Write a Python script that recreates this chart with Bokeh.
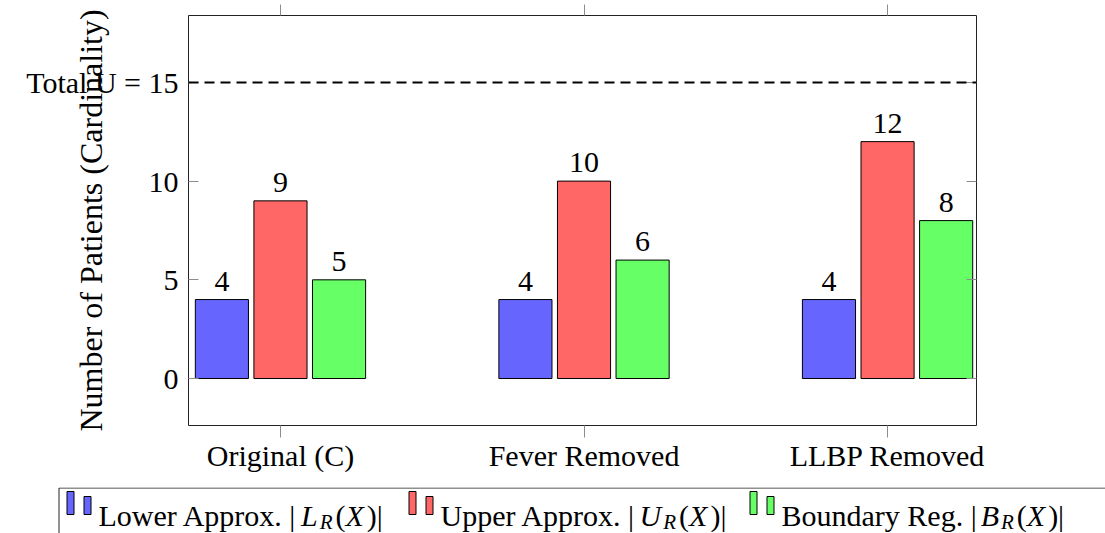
import numpy as np
from bokeh.plotting import figure
from bokeh.models import (ColumnDataSource, Range1d, FixedTicker, LinearAxis,
                          Span, LabelSet)
from bokeh.layouts import column
from bokeh.embed import file_html
from bokeh.resources import INLINE
from bokeh.transform import dodge
from bokeh.core.properties import value

# ---------------- data ----------------
categories = ["Original (C)", "Fever Removed", "LLBP Removed"]
lower = [4, 4, 4]
upper = [9, 10, 12]
boundary = [5, 6, 8]
total_u = 15
total_text = "Total U = 15"
series_names = ["Lower Approx.", "Upper Approx.", "Boundary Reg."]
series_symbols = ["L", "U", "B"]
colors = ["#6666ff", "#ff6666", "#66ff66"]
y_ticks = [0, 5, 10, 15]
y_label = "Number of Patients (Cardinality)"

# ---------------- style ----------------
FONT = "Liberation Serif"
FS = 30
TICK_COLOR = "#8c8c8c"
BAR_W = 0.175
OFFS = [-0.193, 0.0, 0.193]
W = 1105

# approx advance widths (Times metrics, per 1000 em)
REG = {' ': 250, '|': 200, '(': 333, ')': 333, '.': 250, '=': 564, 'A': 722, 'B': 667,
       'L': 611, 'U': 722, 'R': 667, 'T': 611, 'a': 444, 'd': 500, 'e': 444, 'g': 500,
       'n': 500, 'o': 500, 'p': 500, 'r': 333, 'u': 500, 'w': 722, 'x': 500, 'y': 500,
       't': 278, 'l': 278, 'i': 278}
ITA = {'L': 556, 'U': 722, 'B': 611, 'R': 611, 'X': 611}


def tw(s, size, italic=False):
    tab = ITA if italic else REG
    return sum(tab.get(ch, REG.get(ch, 500)) for ch in s) * size / 1000.0


x = np.arange(len(categories))
series = [lower, upper, boundary]
data = dict(x=x)
for i, s in enumerate(series):
    data[f"v{i}"] = s
    data[f"t{i}"] = [str(v) for v in s]
src = ColumnDataSource(data)

p = figure(frame_width=788, frame_height=410,
           x_range=Range1d(-0.303, 2.293), y_range=Range1d(-2.38, 18.39),
           output_backend="svg", toolbar_location=None,
           min_border_left=188, min_border_right=W - 188 - 788, min_border_top=15,
           min_border_bottom=62)
p.frame_align = False
p.xgrid.visible = False
p.ygrid.visible = False
p.outline_line_color = "#222222"
p.outline_line_width = 1
p.background_fill_color = "white"
p.border_fill_color = "white"

# bottom x axis
xa = p.xaxis[0]
xa.ticker = FixedTicker(ticks=list(x))
xa.major_label_overrides = {int(i): c for i, c in zip(x, categories)}
xa.major_tick_out = 12
xa.major_tick_in = 0
xa.minor_tick_line_color = None
xa.axis_line_color = None
xa.major_tick_line_color = TICK_COLOR
xa.major_label_text_font = FONT
xa.major_label_text_font_size = f"{FS}px"
xa.major_label_text_color = "black"
xa.major_label_standoff = 1

# left y axis; the 15 tick carries the "Total U = 15" note as in the reference
ya = p.yaxis[0]
ya.ticker = FixedTicker(ticks=y_ticks)
ya.major_label_overrides = {total_u: total_text}
ya.major_tick_in = 10
ya.major_tick_out = 0
ya.minor_tick_line_color = None
ya.axis_line_color = None
ya.major_tick_line_color = TICK_COLOR
ya.major_label_text_font = FONT
ya.major_label_text_font_size = f"{FS}px"
ya.major_label_text_color = "black"
ya.major_label_standoff = 10
ya.axis_label = y_label
ya.axis_label_text_font = FONT
ya.axis_label_text_font_size = "32px"
ya.axis_label_text_font_style = "normal"
ya.axis_label_text_color = "black"
ya.axis_label_standoff = int(round(78 - 10 - tw(total_text, FS)))

# top axis (ticks only)
ta = LinearAxis(ticker=FixedTicker(ticks=list(x)), major_tick_out=11, major_tick_in=0,
                minor_tick_line_color=None, axis_line_color=None,
                major_tick_line_color=TICK_COLOR, major_label_text_font_size="1px",
                major_label_text_color=None, major_label_standoff=0,
                major_label_overrides={int(i): "" for i in x})
p.add_layout(ta, "above")

# right axis (ticks only)
ra = LinearAxis(ticker=FixedTicker(ticks=y_ticks), major_tick_in=10, major_tick_out=0,
                minor_tick_line_color=None, axis_line_color=None,
                major_tick_line_color=TICK_COLOR, major_label_text_font_size="1px",
                major_label_text_color=None, major_label_standoff=0,
                major_label_overrides={t: "" for t in y_ticks})
p.add_layout(ra, "right")

# bars
for i in range(3):
    p.vbar(x=dodge("x", OFFS[i]), top=f"v{i}", bottom=0, width=BAR_W, source=src,
           fill_color=colors[i], line_color="black", line_width=1)
    p.add_layout(LabelSet(x=dodge("x", OFFS[i]), y=f"v{i}", text=f"t{i}", source=src,
                          text_align="center", text_baseline="alphabetic", y_offset=9,
                          text_font=FONT, text_font_size=f"{FS}px", text_color="black"))

# total line
p.add_layout(Span(location=total_u, dimension="width", line_color="black",
                  line_dash="10 6", line_width=2))

# ---------------- legend figure ----------------
LH = 533 - 487
lg = figure(width=W, height=LH, x_range=Range1d(0, W), y_range=Range1d(LH, 0),
            output_backend="svg", toolbar_location=None, x_axis_type=None, y_axis_type=None,
            min_border=0, min_border_left=0, min_border_right=0, min_border_top=0,
            min_border_bottom=0)
lg.frame_align = False
lg.xgrid.visible = False
lg.ygrid.visible = False
lg.outline_line_color = None
lg.background_fill_color = "white"
lg.border_fill_color = "white"

lg.quad(left=[58.5], right=[3000], top=[0.5], bottom=[300], fill_color=None,
        line_color="#222222", line_width=1)

entry_x = [70, 412, 753]
bq = dict(left=[], right=[], top=[], bottom=[], color=[])
tx = dict(x=[], y=[], text=[], size=[], style=[])
base = 28
for i in range(3):
    x0e = entry_x[i]
    for cx, top in [(x0e, base - 24), (x0e + 17, base - 19)]:
        bq["left"].append(cx - 3.5)
        bq["right"].append(cx + 3.5)
        bq["top"].append(top)
        bq["bottom"].append(base - 1)
        bq["color"].append(colors[i])
    pieces = [(series_names[i] + " |", "normal", FS, 0, 4),
              (series_symbols[i], "italic", FS, 0, 2),
              ("R", "italic", 21, 6, 3),
              ("(", "normal", FS, 0, 0),
              ("X", "italic", FS, 0, 3),
              (")|", "normal", FS, 0, 0)]
    cx = x0e + 28
    for s, st, sz, dy, extra in pieces:
        tx["x"].append(cx)
        tx["y"].append(base + dy)
        tx["text"].append(s)
        tx["size"].append(f"{sz}px")
        tx["style"].append(st)
        cx += tw(s, sz, st == "italic") + extra

lg.quad(left="left", right="right", top="top", bottom="bottom", fill_color="color",
        line_color="black", line_width=1, source=ColumnDataSource(bq))
lg.text(x="x", y="y", text="text", text_font_size="size", text_font_style="style",
        text_font=value(FONT), text_baseline="alphabetic", text_align="left",
        text_color="black", source=ColumnDataSource(tx))

layout = column(p, lg, spacing=0)
open("out.html", "w").write(file_html(layout, INLINE))
